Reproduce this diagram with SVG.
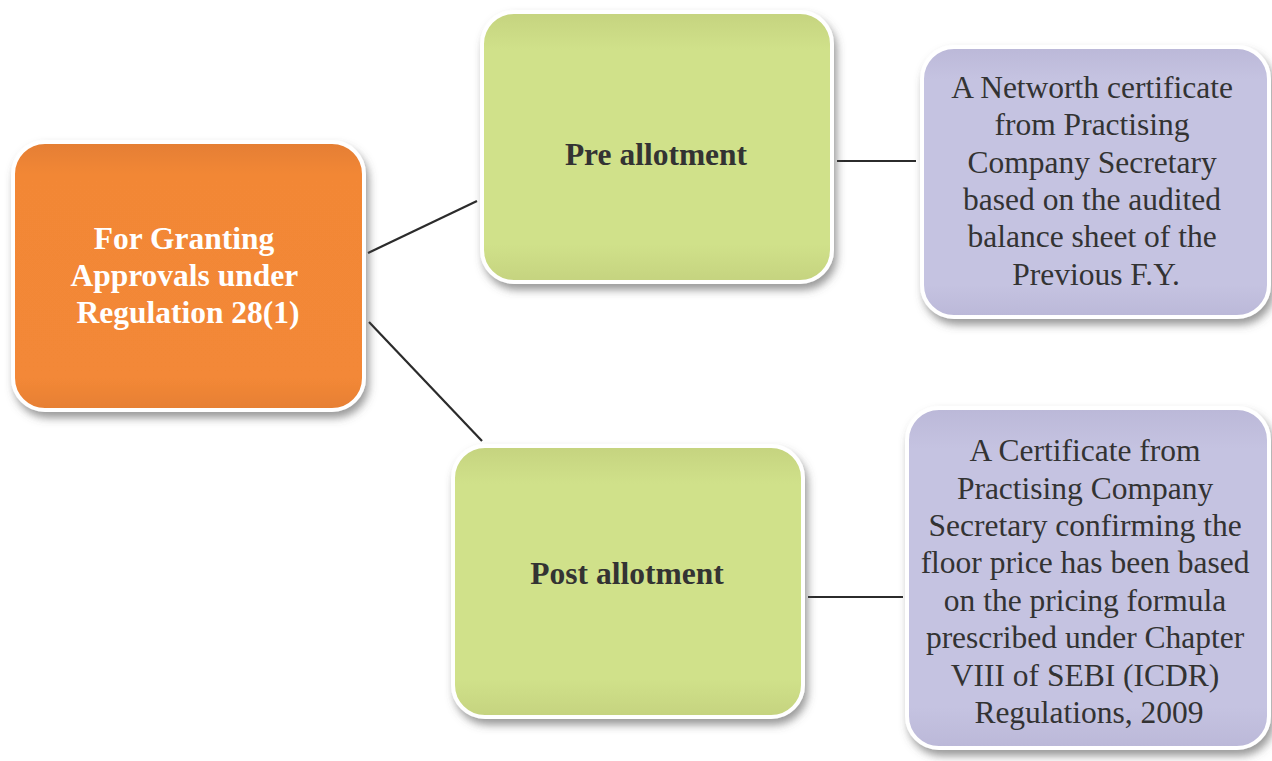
<svg xmlns="http://www.w3.org/2000/svg" width="1272" height="761" viewBox="0 0 1272 761">
  <defs>
    <filter id="shadow" x="-10%" y="-10%" width="125%" height="130%">
      <feDropShadow dx="3" dy="6" stdDeviation="4" flood-color="#555" flood-opacity="0.6"/>
    </filter>
    <linearGradient id="gOrange" x1="0" y1="0" x2="0" y2="1">
      <stop offset="0" stop-color="#E47E33"/>
      <stop offset="0.12" stop-color="#F28736"/>
      <stop offset="0.88" stop-color="#F38837"/>
      <stop offset="1" stop-color="#E67F33"/>
    </linearGradient>
    <linearGradient id="gGreen" x1="0" y1="0" x2="0" y2="1">
      <stop offset="0" stop-color="#C5D37F"/>
      <stop offset="0.14" stop-color="#D0E18A"/>
      <stop offset="0.86" stop-color="#D0E18A"/>
      <stop offset="1" stop-color="#C5D37F"/>
    </linearGradient>
    <linearGradient id="gPurple" x1="0" y1="0" x2="0" y2="1">
      <stop offset="0" stop-color="#BBB8D8"/>
      <stop offset="0.12" stop-color="#C5C3E1"/>
      <stop offset="0.88" stop-color="#C5C3E1"/>
      <stop offset="1" stop-color="#BBB8D8"/>
    </linearGradient>
    <style>
      .box { stroke: #FFFFFF; stroke-width: 4; filter: url(#shadow); }
      .orange { fill: url(#gOrange); }
      .green { fill: url(#gGreen); }
      .purple { fill: url(#gPurple); }
      .link { stroke: #2B2B2B; stroke-width: 2.2; fill: none; }
      .title { font-family: "Liberation Serif", "Times New Roman", serif; font-weight: bold; font-size: 31.5px; text-anchor: middle; }
      .body { font-family: "Liberation Serif", "Times New Roman", serif; font-size: 31.5px; fill: #333333; text-anchor: middle; }
    </style>
  </defs>

  <rect width="1272" height="761" fill="#FFFFFF"/>

  <!-- connectors -->
  <g id="connectors">
    <line class="link" x1="368" y1="253" x2="477" y2="201"/>
    <line class="link" x1="369" y1="322" x2="482" y2="441"/>
    <line class="link" x1="837" y1="161" x2="916" y2="161"/>
    <line class="link" x1="808" y1="597" x2="903" y2="597"/>
  </g>

  <!-- root node -->
  <g id="node-root">
    <rect class="box orange" x="13" y="142" width="351" height="268" rx="32" ry="32"/>
    <text class="title" fill="#FFFFFF">
      <tspan x="188" y="249">For Granting</tspan>
      <tspan x="188" y="286">Approvals under</tspan>
      <tspan x="188" y="323">Regulation 28(1)</tspan>
    </text>
  </g>

  <!-- pre allotment -->
  <g id="node-pre">
    <rect class="box green" x="482" y="12" width="350" height="270" rx="32" ry="32"/>
    <text class="title" fill="#333333" x="656" y="165">Pre allotment</text>
  </g>

  <!-- post allotment -->
  <g id="node-post">
    <rect class="box green" x="453" y="446" width="350" height="271" rx="32" ry="32"/>
    <text class="title" fill="#333333" x="627" y="584">Post allotment</text>
  </g>

  <!-- pre allotment requirement -->
  <g id="node-pre-detail">
    <rect class="box purple" x="922" y="47" width="347" height="270" rx="32" ry="32"/>
    <text class="body">
      <tspan x="1096" y="98">A Networth certificate</tspan>
      <tspan x="1096" y="135">from Practising</tspan>
      <tspan x="1096" y="173">Company Secretary</tspan>
      <tspan x="1096" y="210">based on the audited</tspan>
      <tspan x="1096" y="247">balance sheet of the</tspan>
      <tspan x="1096" y="285">Previous F.Y.</tspan>
    </text>
  </g>

  <!-- post allotment requirement -->
  <g id="node-post-detail">
    <rect class="box purple" x="907" y="408" width="362" height="340" rx="32" ry="32"/>
    <text class="body">
      <tspan x="1089" y="461">A Certificate from</tspan>
      <tspan x="1089" y="499">Practising Company</tspan>
      <tspan x="1089" y="536">Secretary confirming the</tspan>
      <tspan x="1089" y="573">floor price has been based</tspan>
      <tspan x="1089" y="611">on the pricing formula</tspan>
      <tspan x="1089" y="648">prescribed under Chapter</tspan>
      <tspan x="1089" y="686">VIII of SEBI (ICDR)</tspan>
      <tspan x="1089" y="723">Regulations, 2009</tspan>
    </text>
  </g>
</svg>
